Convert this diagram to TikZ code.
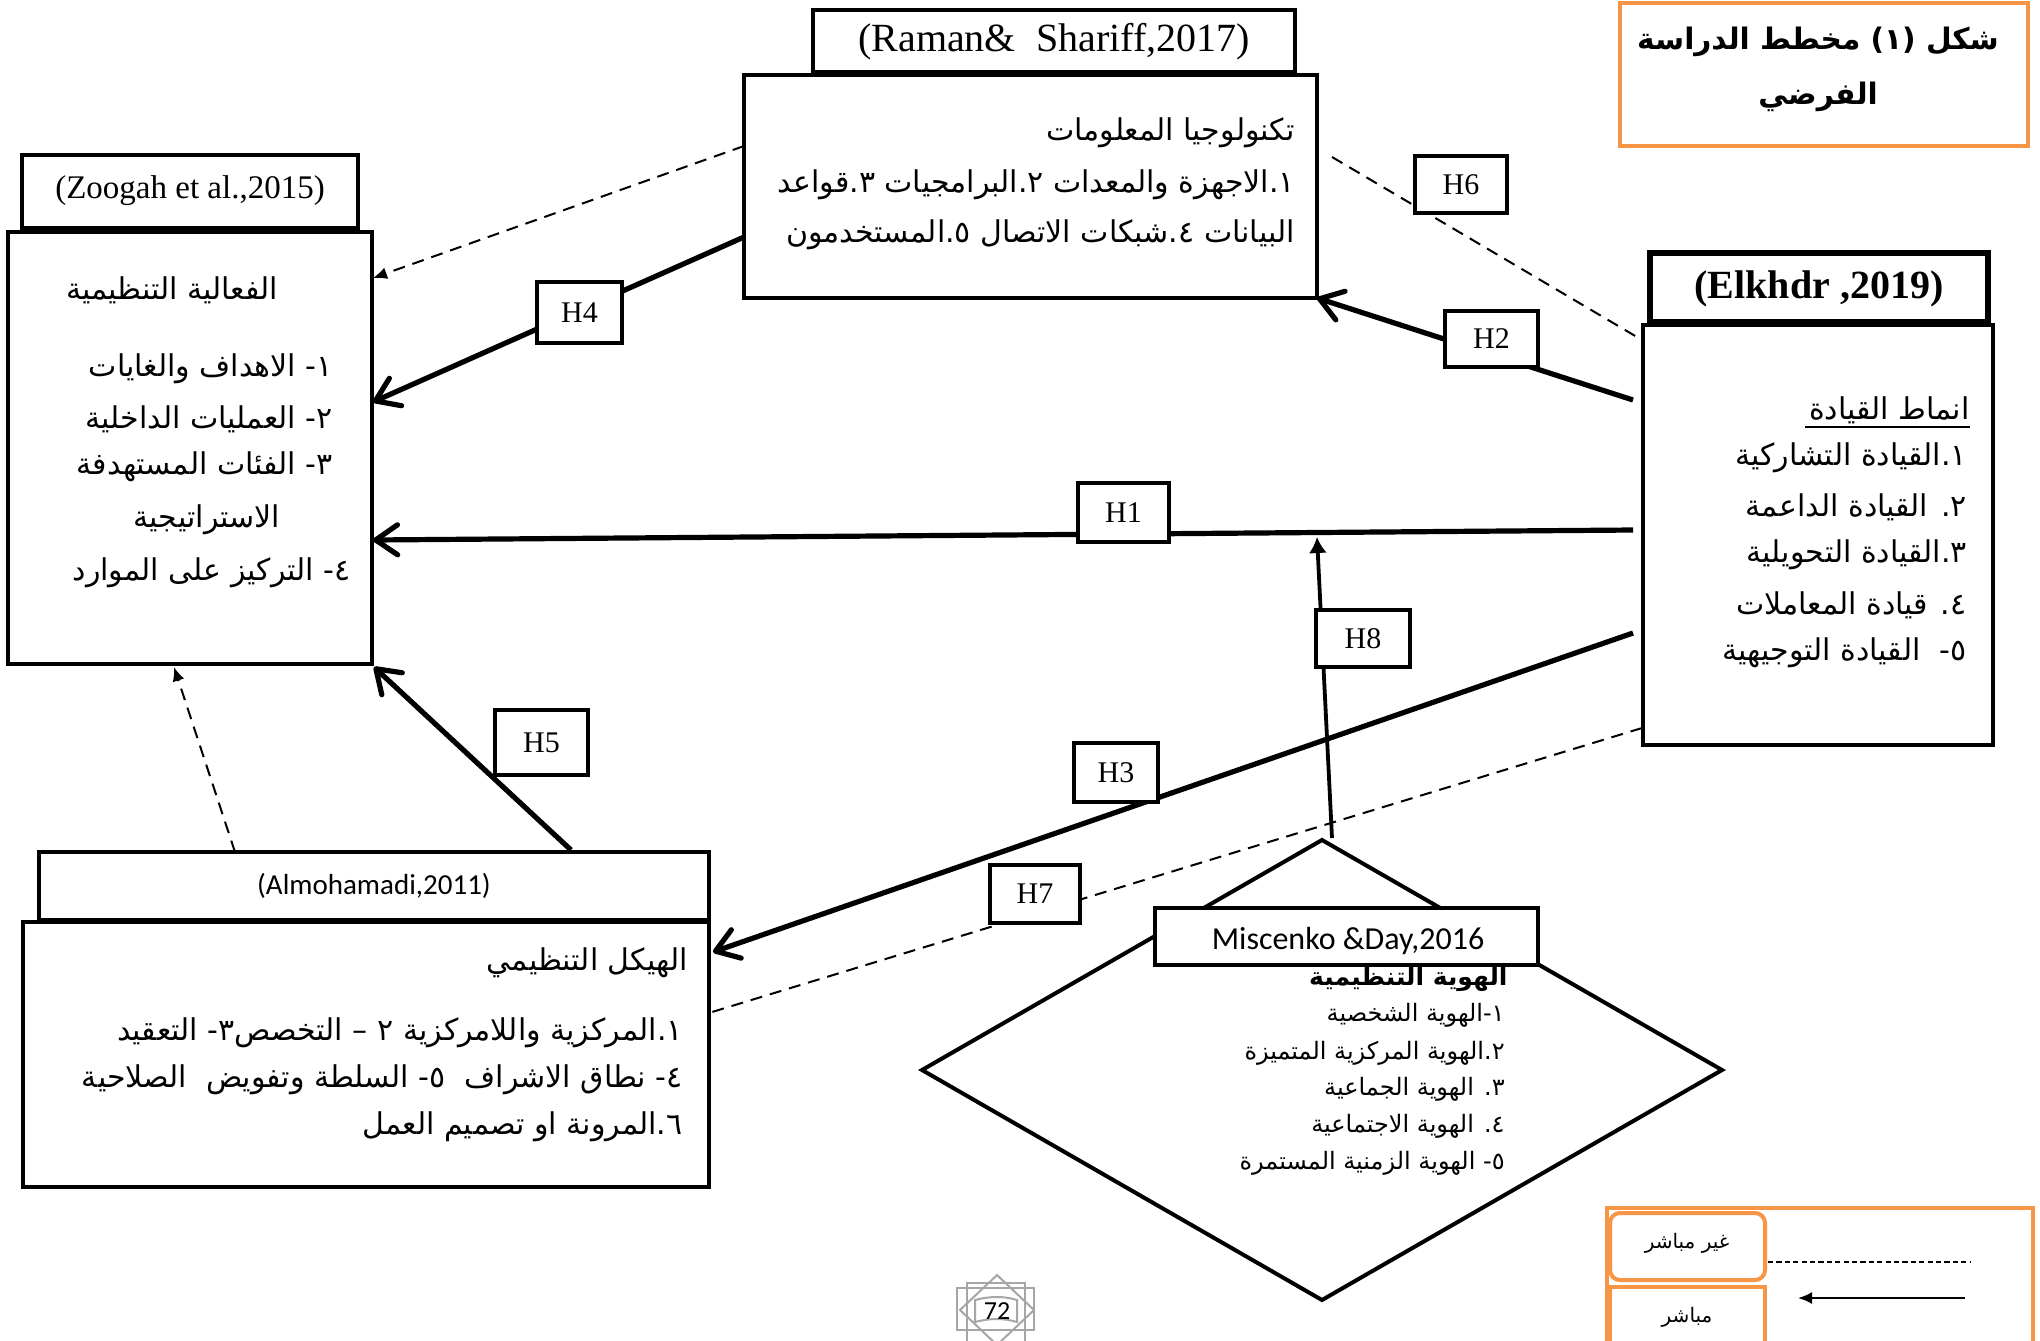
\documentclass[tikz,border=0pt]{standalone}
\usepackage{fontspec}
\usetikzlibrary{arrows.meta,fit}
\TeXXeTstate=1
\newfontfamily\arfont[Script=Arabic]{DejaVu Sans}
\newfontfamily\arbfont[Script=Arabic]{DejaVu Sans Bold}
\newfontfamily\serfont{Liberation Serif}
\newfontfamily\carfont{Carlito}
\newcommand\AR[1]{\beginR #1\endR}
\definecolor{orng}{HTML}{F79646}
\definecolor{ornam}{HTML}{A6A6A6}
\begin{document}
\begin{tikzpicture}[x=0.5pt,y=-0.5pt,
  box/.style={draw=black,line width=2.4pt,fill=white,inner sep=0pt},
  hbox/.style={draw=black,line width=2pt,fill=white,inner sep=0pt},
  htx/.style={font=\serfont\fontsize{15}{18}\selectfont,inner sep=0pt},
  obox/.style={draw=orng,line width=2pt,fill=white,inner sep=0pt},
  artx/.style={font=\arfont\fontsize{15}{18}\selectfont,inner sep=0pt},
  smartx/.style={font=\arfont\fontsize{12}{14}\selectfont,inner sep=0pt},
  solidarr/.style={line width=2.6pt,-{Straight Barb[length=11pt,width=15pt,round]}},
  dasharr/.style={line width=1pt,dash pattern=on 6pt off 4pt,-{Latex[length=7pt,width=6pt]}},
  dashln/.style={line width=1pt,dash pattern=on 6pt off 4pt}
]
\useasboundingbox[fill=white] (0,0) rectangle (2040,1340);

% ---------- connector end points ----------
\coordinate (h1s) at (1633,530);  \coordinate (h1e) at (373,540);
\coordinate (h2s) at (1633,400);  \coordinate (h2e) at (1317,298);
\coordinate (h3s) at (1633,633);  \coordinate (h3e) at (713,952);
\coordinate (h4s) at (744,237);   \coordinate (h4e) at (373,402);
\coordinate (h5s) at (571,850);   \coordinate (h5e) at (374,667);
\coordinate (h6s) at (1332,157);  \coordinate (h6e) at (1642,340);
\coordinate (h7s) at (1642,728);  \coordinate (h7e) at (712,1012);
\coordinate (h8s) at (1332,838);  \coordinate (h8e) at (1317,537);
\coordinate (rzs) at (744,146);   \coordinate (rze) at (373,278);
\coordinate (azs) at (235,852);   \coordinate (aze) at (174,667);

% ---------- connectors ----------
\draw[solidarr] (h1s) -- (h1e);
\draw[solidarr] (h2s) -- (h2e);
\draw[solidarr] (h3s) -- (h3e);
\draw[solidarr] (h4s) -- (h4e);
\draw[solidarr] (h5s) -- (h5e);
\draw[dashln] (h6s) -- (h6e);
\draw[dashln] (h7s) -- (h7e);
\draw[line width=1.9pt,-{Latex[length=8pt,width=9pt]}] (h8s) -- (h8e);
\draw[dasharr] (rzs) -- (rze);
\draw[dasharr] (azs) -- (aze);

% ---------- Zoogah ----------
\node[box,fit={(8,232) (372,664)}] (zoogah) {};
\node[box,fit={(22,155) (358,228)}] (zoogahhd) {};
\node[font=\serfont\fontsize{16.5}{19}\selectfont,inner sep=0pt] (zoogaht) at (190,191) {(Zoogah et al.,2015)};
\node[artx] (z0) at (172,290) {\AR{الفعالية التنظيمية}};
\node[artx,anchor=east] (z1) at (333,369) {\AR{١- الاهداف والغايات}};
\node[artx,anchor=east] (z2) at (333,419) {\AR{٢- العمليات الداخلية}};
\node[artx,anchor=east] (z3) at (333,467) {\AR{٣- الفئات المستهدفة}};
\node[artx] (z3b) at (207,520) {\AR{الاستراتيجية}};
\node[artx,anchor=east] (z4) at (351,573) {\AR{٤- التركيز على الموارد}};

% ---------- Raman ----------
\node[box,fit={(744,75) (1317,298)}] (raman) {};
\node[box,fit={(813,10) (1295,72)}] (ramanhd) {};
\node[font=\serfont\fontsize{20}{24}\selectfont,inner sep=0pt] (ramant) at (1054,42) {(Raman\&\ \ Shariff,2017)};
\node[artx,anchor=east] (r0) at (1295,133) {\AR{تكنولوجيا المعلومات}};
\node[artx,anchor=east] (r1) at (1295,185) {\AR{١.الاجهزة والمعدات ٢.البرامجيات ٣.قواعد}};
\node[artx,anchor=east] (r2) at (1295,235) {\AR{البيانات ٤.شبكات الاتصال ٥.المستخدمون}};

% ---------- Elkhdr ----------
\node[box,fit={(1643,325) (1993,745)}] (elkhdr) {};
\node[box,line width=2.8pt,fit={(1650,253) (1988,322)}] (elkhdrhd) {};
\node[font=\serfont\bfseries\fontsize{20}{24}\selectfont,inner sep=0pt] (elkhdrt) at (1819,289) {(Elkhdr ,2019)};
\node[artx,anchor=east] (e0) at (1970,410) {\AR{انماط القيادة}};
\draw[line width=1.3pt] (1805,427) -- (1970,427);
\node[artx,anchor=east] (e1) at (1967,458) {\AR{١.القيادة التشاركية}};
\node[artx,anchor=east] (e2) at (1967,507) {\AR{٢. القيادة الداعمة}};
\node[artx,anchor=east] (e3) at (1967,555) {\AR{٣.القيادة التحويلية}};
\node[artx,anchor=east] (e4) at (1967,605) {\AR{٤. قيادة المعاملات}};
\node[artx,anchor=east] (e5) at (1967,653) {\AR{٥-\ \ القيادة التوجيهية}};

% ---------- Almohamadi ----------
\node[box,fit={(23,922) (709,1187)}] (almo) {};
\node[box,fit={(39,852) (709,920)}] (almohd) {};
\node[font=\carfont\fontsize{14.5}{17}\selectfont,inner sep=0pt] (almot) at (374,886) {(Almohamadi,2011)};
\node[artx,anchor=east] (a0) at (688,963) {\AR{الهيكل التنظيمي}};
\node[artx,anchor=east] (a1) at (683,1033) {\AR{١.المركزية واللامركزية ٢ – التخصص٣- التعقيد}};
\node[artx,anchor=east] (a2) at (683,1080) {\AR{٤- نطاق الاشراف\ \ ٥- السلطة وتفويض\ \ الصلاحية}};
\node[artx,anchor=east] (a3) at (683,1127) {\AR{٦.المرونة او تصميم العمل}};

% ---------- Miscenko diamond ----------
\draw[line width=2pt,fill=white] (1322,840) -- (1722,1070) -- (1322,1300) -- (922,1070) -- cycle;
\node[font=\arbfont\fontsize{12.5}{14}\selectfont,inner sep=0pt,anchor=east] (m0) at (1508,979) {\AR{الهوية التنظيمية}};
\node[smartx,anchor=east] (m1) at (1505,1015) {\AR{١-الهوية الشخصية}};
\node[smartx,anchor=east] (m2) at (1505,1053) {\AR{٢.الهوية المركزية المتميزة}};
\node[smartx,anchor=east] (m3) at (1505,1089) {\AR{٣. الهوية الجماعية}};
\node[smartx,anchor=east] (m4) at (1505,1126) {\AR{٤. الهوية الاجتماعية}};
\node[smartx,anchor=east] (m5) at (1505,1163) {\AR{٥- الهوية الزمنية المستمرة}};
\node[box,line width=2.2pt,fit={(1155,908) (1538,965)}] (misc) {};
\node[font=\carfont\fontsize{16}{19}\selectfont,inner sep=0pt] (misct) at (1348,941) {Miscenko \&Day,2016};

% ---------- H labels ----------
\node[hbox,fit={(1078,483) (1169,542)}] (H1) {};
\node[hbox,fit={(1445,311) (1538,367)}] (H2) {};
\node[hbox,fit={(1074,743) (1158,802)}] (H3) {};
\node[hbox,fit={(537,282) (622,343)}] (H4) {};
\node[hbox,fit={(495,710) (588,775)}] (H5) {};
\node[hbox,fit={(1415,156) (1507,213)}] (H6) {};
\node[hbox,fit={(990,865) (1080,923)}] (H7) {};
\node[hbox,fit={(1316,610) (1410,667)}] (H8) {};
\node[htx] (H1t) at (H1.center) {H1};
\node[htx] (H2t) at (H2.center) {H2};
\node[htx] (H3t) at (H3.center) {H3};
\node[htx] (H4t) at (H4.center) {H4};
\node[htx] (H5t) at (H5.center) {H5};
\node[htx] (H6t) at (H6.center) {H6};
\node[htx] (H7t) at (H7.center) {H7};
\node[htx] (H8t) at (H8.center) {H8};

% ---------- title ----------
\node[obox,fit={(1620,3) (2028,146)}] (title) {};
\node[font=\arbfont\fontsize{14.8}{18}\selectfont,inner sep=0pt] (t1) at (1818,42) {\AR{شكل \beginL(١)\endL{} مخطط الدراسة}};
\node[font=\arbfont\fontsize{14.8}{18}\selectfont,inner sep=0pt] (t2) at (1818,97) {\AR{الفرضي}};

% ---------- legend ----------
\node[obox,fit={(1607,1208) (2033,1350)}] (legend) {};
\node[obox,rounded corners=5pt,fit={(1610,1213) (1765,1280)}] (lgind) {};
\node[font=\arfont\fontsize{10}{12}\selectfont,inner sep=0pt] (lgindt) at (1687,1243) {\AR{غير مباشر}};
\node[obox,fit={(1610,1287) (1765,1352)}] (lgdir) {};
\node[font=\arfont\fontsize{10}{12}\selectfont,inner sep=0pt] (lgdirt) at (1687,1317) {\AR{مباشر}};
\coordinate (ld1) at (1768,1262); \coordinate (ld2) at (1970,1262);
\coordinate (la1) at (1965,1298); \coordinate (la2) at (1798,1298);
\draw[line width=1pt,dash pattern=on 2.6pt off 1.6pt] (ld1) -- (ld2);
\draw[line width=1pt,-{Latex[length=7pt,width=6pt]}] (la1) -- (la2);

% ---------- page ornament ----------
\begin{scope}[draw=ornam,line width=1pt]
\draw (957,1288) rectangle (1034,1330);
\draw (967,1345) -- (967,1283) -- (1025,1283) -- (1025,1345);
\draw (997,1275) -- (1034,1310) -- (997,1345) -- (960,1310) -- cycle;
\draw (975,1300) .. controls (990,1296) and (1004,1296) .. (1017,1300) -- (1017,1322) .. controls (1004,1318) and (990,1318) .. (975,1322) -- cycle;
\end{scope}
\node[font=\carfont\fontsize{13}{15}\selectfont,inner sep=0pt] (pg) at (997,1311) {72};
\end{tikzpicture}
\end{document}
